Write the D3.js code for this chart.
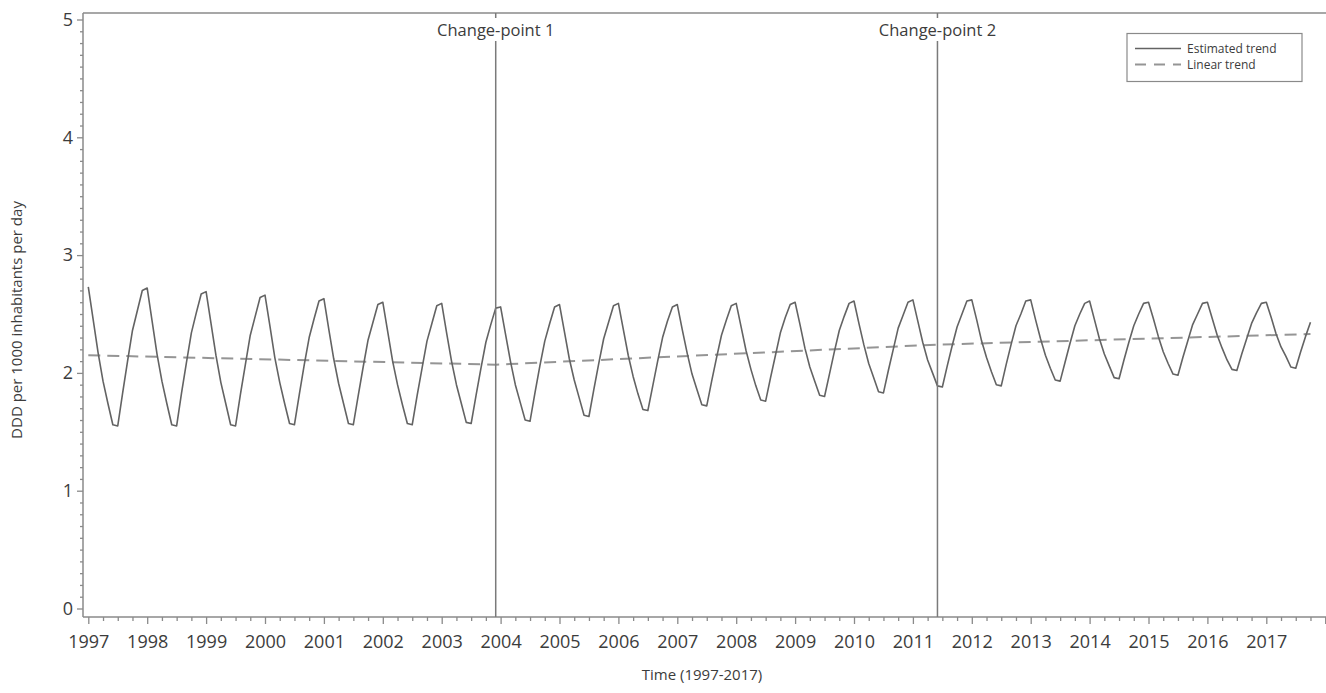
<!DOCTYPE html>
<html><head><meta charset="utf-8">
<script src="https://cdn.jsdelivr.net/npm/d3@7"></script>
<style>
body{margin:0;background:#fff;}
svg{display:block;font-family:"Open Sans",sans-serif;}
</style></head><body>
<svg id="chart" width="1326" height="693"></svg>
<script>
// ---- data ----
const startYear = 1997; // monthly series starting January 1997
const estimatedTrend = [
  2.73, 2.45, 2.17, 1.93, 1.74, 1.56, 1.55, 1.83, 2.10, 2.36, 2.53, 2.70, // 1997
  2.72, 2.44, 2.16, 1.93, 1.74, 1.56, 1.55, 1.83, 2.09, 2.34, 2.51, 2.67, // 1998
  2.69, 2.42, 2.15, 1.92, 1.74, 1.56, 1.55, 1.82, 2.07, 2.32, 2.48, 2.64, // 1999
  2.66, 2.40, 2.13, 1.92, 1.74, 1.57, 1.56, 1.82, 2.07, 2.30, 2.46, 2.61, // 2000
  2.63, 2.37, 2.12, 1.91, 1.74, 1.57, 1.56, 1.81, 2.05, 2.28, 2.43, 2.58, // 2001
  2.60, 2.35, 2.10, 1.90, 1.73, 1.57, 1.56, 1.81, 2.04, 2.27, 2.42, 2.57, // 2002
  2.59, 2.34, 2.10, 1.90, 1.74, 1.58, 1.57, 1.81, 2.04, 2.26, 2.41, 2.55, // 2003
  2.56, 2.33, 2.10, 1.90, 1.75, 1.60, 1.59, 1.83, 2.06, 2.27, 2.42, 2.56, // 2004
  2.58, 2.35, 2.12, 1.94, 1.79, 1.64, 1.63, 1.86, 2.08, 2.29, 2.43, 2.57, // 2005
  2.59, 2.37, 2.15, 1.97, 1.82, 1.69, 1.68, 1.89, 2.10, 2.30, 2.44, 2.56, // 2006
  2.58, 2.37, 2.17, 1.99, 1.86, 1.73, 1.72, 1.93, 2.13, 2.32, 2.45, 2.57, // 2007
  2.59, 2.39, 2.19, 2.03, 1.89, 1.77, 1.76, 1.96, 2.15, 2.34, 2.47, 2.58, // 2008
  2.60, 2.41, 2.21, 2.05, 1.93, 1.81, 1.80, 1.99, 2.18, 2.36, 2.48, 2.59, // 2009
  2.61, 2.42, 2.24, 2.08, 1.96, 1.84, 1.83, 2.02, 2.20, 2.38, 2.49, 2.60, // 2010
  2.62, 2.44, 2.26, 2.11, 2.00, 1.89, 1.88, 2.06, 2.23, 2.39, 2.50, 2.61, // 2011
  2.62, 2.45, 2.27, 2.13, 2.01, 1.90, 1.89, 2.07, 2.24, 2.40, 2.50, 2.61, // 2012
  2.62, 2.45, 2.29, 2.15, 2.04, 1.94, 1.93, 2.09, 2.25, 2.40, 2.50, 2.59, // 2013
  2.61, 2.45, 2.29, 2.16, 2.06, 1.96, 1.95, 2.11, 2.26, 2.40, 2.50, 2.59, // 2014
  2.60, 2.46, 2.31, 2.18, 2.08, 1.99, 1.98, 2.13, 2.27, 2.41, 2.50, 2.59, // 2015
  2.60, 2.46, 2.32, 2.21, 2.11, 2.03, 2.02, 2.16, 2.29, 2.42, 2.51, 2.59, // 2016
  2.60, 2.47, 2.33, 2.22, 2.14, 2.05, 2.04, 2.18, 2.31, 2.43              // 2017
];
const linearTrendDates  = [1997.0, 2003.917, 2011.417, 2017.75];
const linearTrendValues = [2.15, 2.07, 2.24, 2.33];
const changePointDates  = [2003.917, 2011.417];
const changePointLabels = ["Change-point 1", "Change-point 2"];
const xMajorTicks = [1997,1998,1999,2000,2001,2002,2003,2004,2005,2006,2007,2008,2009,2010,2011,2012,2013,2014,2015,2016,2017,2018];
const xLabelMax = 2017;
const yMajorTicks = [0, 1, 2, 3, 4, 5];
const legendLabels = ["Estimated trend", "Linear trend"];
const xTitle = "Time (1997-2017)";
const yTitle = "DDD per 1000 inhabitants per day";

// ---- layout ----
const svg = d3.select("#chart");
const frame = {left: 83, right: 1326, top: 13, bottom: 617};
const x = d3.scaleLinear().domain([1997, 2018]).range([88.3, 1325.2]);
const y = d3.scaleLinear().domain([0, 5]).range([608.5, 19.5]);
const axisColor = "#8a8a8a", textColor = "#3c3c3c";

// frame lines
svg.append("line").attr("x1", frame.left).attr("x2", frame.right).attr("y1", frame.top).attr("y2", frame.top)
  .attr("stroke", axisColor).attr("stroke-width", 1.5);
svg.append("line").attr("x1", frame.left).attr("x2", frame.right).attr("y1", frame.bottom).attr("y2", frame.bottom)
  .attr("stroke", axisColor).attr("stroke-width", 1.5);
svg.append("line").attr("x1", frame.left).attr("x2", frame.left).attr("y1", frame.top).attr("y2", frame.bottom)
  .attr("stroke", axisColor).attr("stroke-width", 1.5);

// x axis
const xMinor = [];
xMajorTicks.slice(0, -1).forEach(yr => { [0.25, 0.5, 0.75].forEach(q => xMinor.push(yr + q)); });
const gxMinor = svg.append("g").attr("transform", `translate(0,${frame.bottom})`)
  .call(d3.axisBottom(x).tickValues(xMinor).tickSize(4).tickFormat(""));
const gx = svg.append("g").attr("transform", `translate(0,${frame.bottom})`)
  .call(d3.axisBottom(x).tickValues(xMajorTicks).tickSize(7).tickPadding(11)
    .tickFormat(d => d <= xLabelMax ? String(d) : ""));
// y axis
const yMinor = d3.range(0, 50).map(i => i / 10).filter(v => Math.abs(v - Math.round(v)) > 1e-6);
const gyMinor = svg.append("g").attr("transform", `translate(${frame.left},0)`)
  .call(d3.axisLeft(y).tickValues(yMinor).tickSize(3).tickFormat(""));
const gy = svg.append("g").attr("transform", `translate(${frame.left},0)`)
  .call(d3.axisLeft(y).tickValues(yMajorTicks).tickSize(6).tickPadding(4).tickFormat(d3.format("d")));
[gx, gxMinor, gy, gyMinor].forEach(g => {
  g.select(".domain").remove();
  g.selectAll(".tick line").attr("stroke", axisColor).attr("stroke-width", 1.3);
  g.selectAll(".tick text").attr("fill", textColor).style("font-size", "18px")
    .style("font-family", '"Open Sans", sans-serif');
});

// linear trend (dashed)
const dataLinear = linearTrendDates.map((d, i) => ({t: d, v: linearTrendValues[i]}));
svg.append("path").datum(dataLinear)
  .attr("d", d3.line().x(d => x(d.t)).y(d => y(d.v)))
  .attr("fill", "none").attr("stroke", "#959595").attr("stroke-width", 2)
  .attr("stroke-dasharray", "12,7");

// estimated trend
const dataEst = estimatedTrend.map((v, i) => ({t: startYear + i / 12, v}));
svg.append("path").datum(dataEst)
  .attr("d", d3.line().x(d => x(d.t)).y(d => y(d.v)))
  .attr("fill", "none").attr("stroke", "#636363").attr("stroke-width", 1.6)
  .attr("stroke-linejoin", "round");

// change points
changePointDates.forEach((cp, i) => {
  const cx = x(cp);
  svg.append("line").attr("x1", cx).attr("x2", cx).attr("y1", frame.top).attr("y2", frame.bottom)
    .attr("stroke", "#7a7a7a").attr("stroke-width", 1.5);
  const t = svg.append("text").attr("x", cx).attr("y", 36).attr("text-anchor", "middle")
    .attr("fill", textColor).style("font-size", "16.5px").text(changePointLabels[i]);
  const bb = t.node().getBBox();
  svg.insert("rect", () => t.node()).attr("x", bb.x - 3).attr("y", 18).attr("width", bb.width + 6).attr("height", 23)
    .attr("fill", "#fff");
});

// legend
const lg = svg.append("g");
lg.append("rect").attr("x", 1127).attr("y", 33.5).attr("width", 175).attr("height", 48)
  .attr("fill", "#fff").attr("stroke", "#8a8a8a").attr("stroke-width", 1.2);
const legendStyles = [{stroke: "#636363", dash: null, w: 1.6}, {stroke: "#959595", dash: "11,8", w: 2}];
legendLabels.forEach((lab, i) => {
  const ly = 48.5 + i * 16;
  lg.append("line").attr("x1", 1135).attr("x2", 1181).attr("y1", ly).attr("y2", ly)
    .attr("stroke", legendStyles[i].stroke).attr("stroke-width", legendStyles[i].w)
    .attr("stroke-dasharray", legendStyles[i].dash);
  lg.append("text").attr("x", 1187).attr("y", ly).attr("dy", "0.35em").attr("fill", textColor)
    .style("font-size", "12px").text(lab);
});

// axis titles
svg.append("text").attr("x", 702).attr("y", 680).attr("text-anchor", "middle").attr("fill", textColor)
  .style("font-size", "15px").text(xTitle);
svg.append("text").attr("transform", "translate(22,320) rotate(-90)").attr("text-anchor", "middle")
  .attr("fill", textColor).style("font-size", "15px").text(yTitle);
</script>
</body></html>
